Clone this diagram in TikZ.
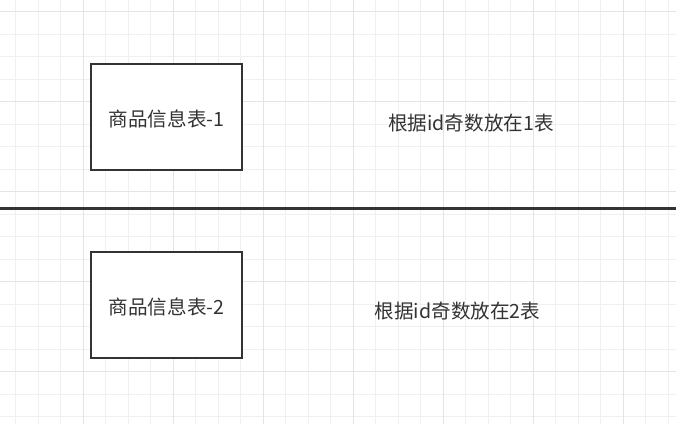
\documentclass[tikz,border=0pt]{standalone}
\usepackage{fontspec}
\setmainfont{Noto Sans CJK SC}
\usetikzlibrary{positioning}
\definecolor{inkgray}{HTML}{333333}
\definecolor{gridminor}{HTML}{F0F0F0}
\definecolor{gridmajor}{HTML}{E4E4E4}

\begin{document}
\begin{tikzpicture}[x=1bp, y=-1bp,
  tablebox/.style={draw=inkgray, line width=2.4bp, fill=white, minimum width=151bp, minimum height=106bp, inner sep=0pt},
  label/.style={text=inkgray, font=\fontsize{19.6bp}{23bp}\selectfont, inner sep=0pt}]
\useasboundingbox (0,0) rectangle (676,424);
\fill[white] (0,0) rectangle (676,424);
% grid
\foreach \gx in {15.5, 38, ..., 676} \draw[gridminor, line width=1bp] (\gx,0) -- (\gx,424);
\foreach \gy in {11.75, 34.25, ..., 424} \draw[gridminor, line width=1bp] (0,\gy) -- (676,\gy);
\foreach \gx in {83, 173, ..., 676} \draw[gridmajor, line width=1bp] (\gx,0) -- (\gx,424);
\foreach \gy in {11.75, 101.75, ..., 424} \draw[gridmajor, line width=1bp] (0,\gy) -- (676,\gy);

% table 1
\node[tablebox] (tab1) at (166.5, 117) {};
\node[label] (tab1text) at (166.5, 118.5) {商品信息表-1};
\node[label] (rule1) at (471, 123.5) {根据id奇数放在1表};

% divider
\coordinate (divL) at (0, 208.5);
\coordinate (divR) at (676, 208.5);
\draw[inkgray, line width=2.6bp] (divL) -- (divR);

% table 2
\node[tablebox] (tab2) at (166.5, 305) {};
\node[label] (tab2text) at (166.5, 306.5) {商品信息表-2};
\node[label] (rule2) at (457.5, 311) {根据id奇数放在2表};
\end{tikzpicture}
\end{document}
